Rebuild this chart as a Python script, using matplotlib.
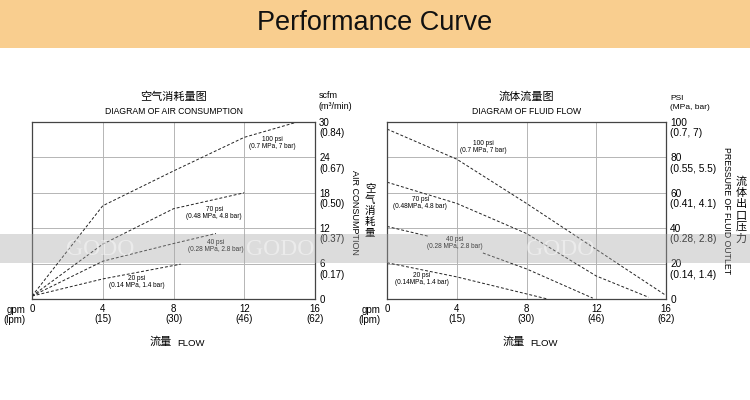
import matplotlib
matplotlib.use("Agg")
import matplotlib.pyplot as plt
import numpy as np
from matplotlib.patches import Rectangle
from matplotlib.transforms import ScaledTranslation

plt.rcParams['font.family'] = ['Liberation Sans', 'Noto Sans CJK SC', 'DejaVu Sans']

# flow axis (shared by both charts)
flow_ticks = [0, 4, 8, 12, 16]
lpm_labels = ['0', '4\n(15)', '8\n(30)', '12\n(46)', '16\n(62)']

# air consumption chart (scfm vs gpm)
air_ticks = [0, 6, 12, 18, 24, 30]
air_labels = ['0', '6\n(0.17)', '12\n(0.37)', '18\n(0.50)', '24\n(0.67)', '30\n(0.84)']
air_100_x = [0, 4, 8, 12, 15]
air_100_y = [0.5, 15.8, 21.7, 27.4, 30]
air_70_x = [0, 4, 8, 12]
air_70_y = [0.5, 9.3, 15.3, 18.0]
air_40_x = [0, 4, 8, 10.4]
air_40_y = [0.5, 6.4, 9.4, 11.1]
air_20_x = [0, 4, 8.4]
air_20_y = [0.5, 3.4, 5.9]

# fluid flow chart (psi vs gpm)
psi_ticks = [0, 20, 40, 60, 80, 100]
psi_labels = ['0', '20\n(0.14, 1.4)', '40\n(0.28, 2.8)', '60\n(0.41, 4.1)',
              '80\n(0.55, 5.5)', '100\n(0.7, 7)']
fl_100_x = [0, 4, 8, 12, 16]
fl_100_y = [96, 79, 54, 28, 2]
fl_70_x = [0, 4, 8, 12, 15]
fl_70_y = [66, 54, 37, 13, 1]
fl_40_x = [0, 2.35, np.nan, 5.5, 8, 11.8]
fl_40_y = [41, 35.5, np.nan, 26, 17, 0.5]
fl_20_x = [0, 4, 9.2]
fl_20_y = [20.5, 12.5, 0]

fig = plt.figure(figsize=(7.5, 4), dpi=100)

# title banner
fig.patches.append(Rectangle((0, 1 - 48 / 400), 1, 48 / 400, transform=fig.transFigure,
                             facecolor='#F9CE8F', edgecolor='none', zorder=0))
fig.text(0.5, 1 - 23 / 400, 'Performance Curve', ha='center', va='center',
         fontsize=19.5, color='#111111')

ax1 = fig.add_axes([32 / 750, 101 / 400, 283 / 750, 177 / 400])
ax2 = fig.add_axes([387 / 750, 101 / 400, 279 / 750, 177 / 400])


def style(ax, yticks, ylabels, ymax, yfs):
    ax.set_xlim(0, 16)
    ax.set_ylim(0, ymax)
    ax.set_xticks(flow_ticks)
    ax.set_xticklabels(lpm_labels, fontsize=7, linespacing=1.0)
    ax.yaxis.tick_right()
    ax.set_yticks(yticks)
    ax.set_yticklabels(ylabels, fontsize=yfs, linespacing=1.05, ha='left')
    ax.tick_params(length=0, pad=3)
    ax.tick_params(axis='x', pad=3.5)
    shift = ScaledTranslation(0, 3 / 72, fig.dpi_scale_trans)
    for lab in ax.get_yticklabels():
        lab.set_va('top')
        lab.set_transform(lab.get_transform() + shift)
    ax.grid(color='#b5b5b5', linewidth=0.7)
    for s in ax.spines.values():
        s.set_color('#444444')
        s.set_linewidth(0.9)
    ax.annotate('gpm\n(lpm)', xy=(0, 0), xycoords='axes fraction', xytext=(-5, -4),
                textcoords='offset points', ha='right', va='top', fontsize=7,
                linespacing=1.0)
    ax.annotate('流量', xy=(0.5, 0), xycoords='axes fraction', xytext=(-1, -31),
                textcoords='offset points', ha='right', va='center', fontsize=8)
    ax.annotate('FLOW', xy=(0.5, 0), xycoords='axes fraction', xytext=(3, -32),
                textcoords='offset points', ha='left', va='center', fontsize=6.8)


style(ax1, air_ticks, air_labels, 30, 7)
style(ax2, psi_ticks, psi_labels, 100, 7.3)

dash = dict(color='#222222', linewidth=0.7, linestyle=(0, (3, 2)))
ax1.plot(air_100_x, air_100_y, **dash)
ax1.plot(air_70_x, air_70_y, **dash)
ax1.plot(air_40_x, air_40_y, **dash)
ax1.plot(air_20_x, air_20_y, **dash)
ax2.plot(fl_100_x, fl_100_y, **dash)
ax2.plot(fl_70_x, fl_70_y, **dash)
ax2.plot(fl_40_x, fl_40_y, **dash)
ax2.plot(fl_20_x, fl_20_y, **dash)

lbl = dict(ha='center', va='center', fontsize=4.7, linespacing=1.0)
ax1.text(13.6, 26.4, '100 psi\n(0.7 MPa, 7 bar)', **lbl)
ax1.text(10.3, 14.6, '70 psi\n(0.48 MPa, 4.8 bar)', **lbl)
ax1.text(10.4, 8.9, '40 psi\n(0.28 MPa, 2.8 bar)', **lbl)
ax1.text(5.9, 2.9, '20 psi\n(0.14 MPa, 1.4 bar)', **lbl)
ax2.text(5.5, 86, '100 psi\n(0.7 MPa, 7 bar)', **lbl)
ax2.text(1.9, 54, '70 psi\n(0.48MPa, 4.8 bar)', **lbl)
ax2.text(3.9, 31.5, '40 psi\n(0.28 MPa, 2.8 bar)', **lbl)
ax2.text(2.0, 11.3, '20 psi\n(0.14MPa, 1.4 bar)', **lbl)

# chart titles
for ax, zh, en in [(ax1, '空气消耗量图', 'DIAGRAM OF AIR CONSUMPTION'),
                   (ax2, '流体流量图', 'DIAGRAM OF FLUID FLOW')]:
    ax.annotate(zh, xy=(0.5, 1), xycoords='axes fraction', xytext=(0, 18),
                textcoords='offset points', ha='center', va='center', fontsize=8)
    ax.annotate(en, xy=(0.5, 1), xycoords='axes fraction', xytext=(0, 7.5),
                textcoords='offset points', ha='center', va='center', fontsize=6.2)

# units above right axes
ax1.annotate('scfm\n(m³/min)', xy=(1, 1), xycoords='axes fraction', xytext=(2.5, 8),
             textcoords='offset points', ha='left', va='bottom', fontsize=6.5,
             linespacing=1.2)
ax2.annotate('PSI\n(MPa, bar)', xy=(1, 1), xycoords='axes fraction', xytext=(3, 8),
             textcoords='offset points', ha='left', va='bottom', fontsize=6,
             linespacing=1.4)

# side labels
fig.text(354 / 750, 1 - 212 / 400, 'AIR CONSUMPTION', rotation=-90, ha='center',
         va='center', fontsize=6.5)
fig.text(370 / 750, 1 - 211 / 400, '空\n气\n消\n耗\n量', ha='center', va='center',
         fontsize=7.5, linespacing=1.15)
fig.text(727 / 750, 1 - 211 / 400, 'PRESSURE OF FLUID OUTLET', rotation=-90,
         ha='center', va='center', fontsize=6.3)
fig.text(741 / 750, 1 - 210 / 400, '流\n体\n出\n口\n压\n力', ha='center', va='center',
         fontsize=8, linespacing=1.15)

# watermark band
fig.patches.append(Rectangle((0, 1 - 263 / 400), 1, 29 / 400, transform=fig.transFigure,
                             facecolor='#a8a8a8', edgecolor='none', alpha=0.4, zorder=5))
for xp in [100, 280, 560]:
    fig.text(xp / 750, 1 - 249 / 400, 'GODO', ha='center', va='center', fontsize=17,
             family='Liberation Serif', color='white', alpha=0.45, zorder=6)

fig.savefig('out.png', dpi=100)
